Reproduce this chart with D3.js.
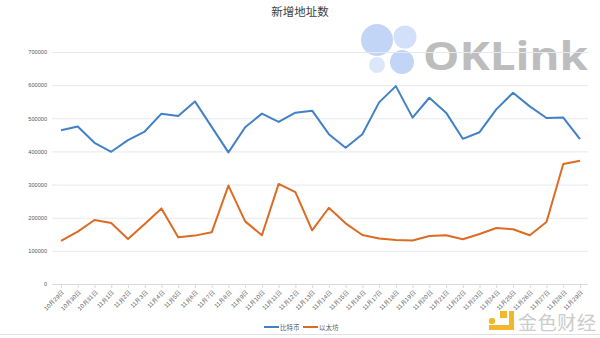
<!DOCTYPE html>
<html><head><meta charset="utf-8">
<script src="https://cdn.jsdelivr.net/npm/d3@7"></script>
<style>body{margin:0;background:#fff;}svg{display:block;font-family:"Noto Sans CJK SC","Noto Sans",sans-serif;}</style>
</head><body><svg id="c" width="600" height="338"></svg>
<script>
const categories = ["10月29日","10月30日","10月31日","11月1日","11月2日","11月3日","11月4日","11月5日","11月6日","11月7日","11月8日","11月9日","11月10日","11月11日","11月12日","11月13日","11月14日","11月15日","11月16日","11月17日","11月18日","11月19日","11月20日","11月21日","11月22日","11月23日","11月24日","11月25日","11月26日","11月27日","11月28日","11月29日"];
const btc = [464000,475000,426000,399000,434000,460000,514000,507000,551000,474000,397000,473000,514000,489000,517000,523000,452000,411000,452000,548000,597000,502000,562000,517000,438000,458000,527000,577000,536000,501000,502000,437000];
const eth = [130000,158000,193000,184000,136000,181000,228000,141000,146000,156000,297000,189000,147000,302000,277000,162000,230000,183000,148000,137000,133000,131000,145000,147000,135000,151000,169000,165000,147000,187000,362000,372000];
const yTicks = [0,100000,200000,300000,400000,500000,600000,700000];
const seriesNames = ["比特币","以太坊"];
const colors = ["#4282c4","#dc6b23"];

const svg = d3.select("#c");
const x = d3.scalePoint().domain(categories).range([61,580]);
const y = d3.scaleLinear().domain([0,700000]).range([284,52]);

// watermark OKLink
const wm = svg.append("g");
[[377,40,16,"#c3d5f7"],[405,37,11.5,"#d3e0fa"],[377,65,8,"#dde7fa"],[402,62,12,"#c3d5f7"]].forEach(c=>{
  wm.append("circle").attr("cx",c[0]).attr("cy",c[1]).attr("r",c[2]).attr("fill",c[3]);
});
wm.append("text").attr("x",423).attr("y",70).attr("font-family","Open Sans, Liberation Sans, sans-serif").attr("font-weight","bold").attr("font-size",39).attr("fill","#bdbdbd").attr("textLength",165).attr("lengthAdjust","spacingAndGlyphs").text("OKLink");

// grid
svg.append("g").selectAll("line").data(yTicks).join("line")
  .attr("x1",52).attr("x2",588).attr("y1",d=>y(d)+0.5).attr("y2",d=>y(d)+0.5)
  .attr("stroke",d=>d===0?"#d9d9d9":"#e6e9ee").attr("stroke-width",1);

// y axis labels
const yAxis = d3.axisLeft(y).tickValues(yTicks).tickSize(0).tickPadding(0).tickFormat(d=>String(d));
const ya = svg.append("g").attr("transform","translate(47,0)").call(yAxis);
ya.select(".domain").remove();
ya.selectAll("text").attr("font-size",5.6).attr("fill","#595959");

// x axis ticks & labels
const xAxis = d3.axisBottom(x).tickSize(4).tickPadding(2);
const xa = svg.append("g").attr("transform","translate(0,284)").call(xAxis);
xa.select(".domain").remove();
xa.selectAll(".tick line").attr("stroke","#d9d9d9");
xa.selectAll("text").attr("font-size",6).attr("fill","#595959")
  .attr("text-anchor","end").attr("dy",0).attr("y",0)
  .attr("transform","translate(3,9) rotate(-45)");

// lines
const line = d3.line().x((d,i)=>x(categories[i])).y(d=>y(d));
[btc,eth].forEach((s,k)=>{
  svg.append("path").attr("d",line(s)).attr("fill","none").attr("stroke",colors[k]).attr("stroke-width",2).attr("stroke-linejoin","round");
});

// title
svg.append("text").attr("x",300).attr("y",16).attr("text-anchor","middle").attr("font-size",11.5).attr("fill","#404040").text("新增地址数");

// legend
const lg = svg.append("g");
[[264,seriesNames[0],colors[0]],[303,seriesNames[1],colors[1]]].forEach(l=>{
  lg.append("line").attr("x1",l[0]).attr("x2",l[0]+15).attr("y1",327).attr("y2",327).attr("stroke",l[2]).attr("stroke-width",2);
  lg.append("text").attr("x",l[0]+16).attr("y",329.5).attr("font-size",6.5).attr("fill","#595959").text(l[1]);
});

// bottom frame line
svg.append("line").attr("x1",0).attr("x2",600).attr("y1",334.5).attr("y2",334.5).attr("stroke","#e0e0e0");

// jinse watermark
const jw = svg.append("g");
jw.append("rect").attr("x",500).attr("y",311).attr("width",7).attr("height",7).attr("fill","#f3b72c");
jw.append("path").attr("d","M509,311 h5 v19 h-25 v-5 h20 z").attr("fill","#f3b72c");
jw.append("rect").attr("x",489).attr("y",318).attr("width",6).attr("height",6).attr("rx",2).attr("fill","#f3b72c");
jw.append("text").attr("x",518).attr("y",330).attr("font-size",19).attr("fill","#cccccc").attr("textLength",78).text("金色财经");
</script></body></html>
